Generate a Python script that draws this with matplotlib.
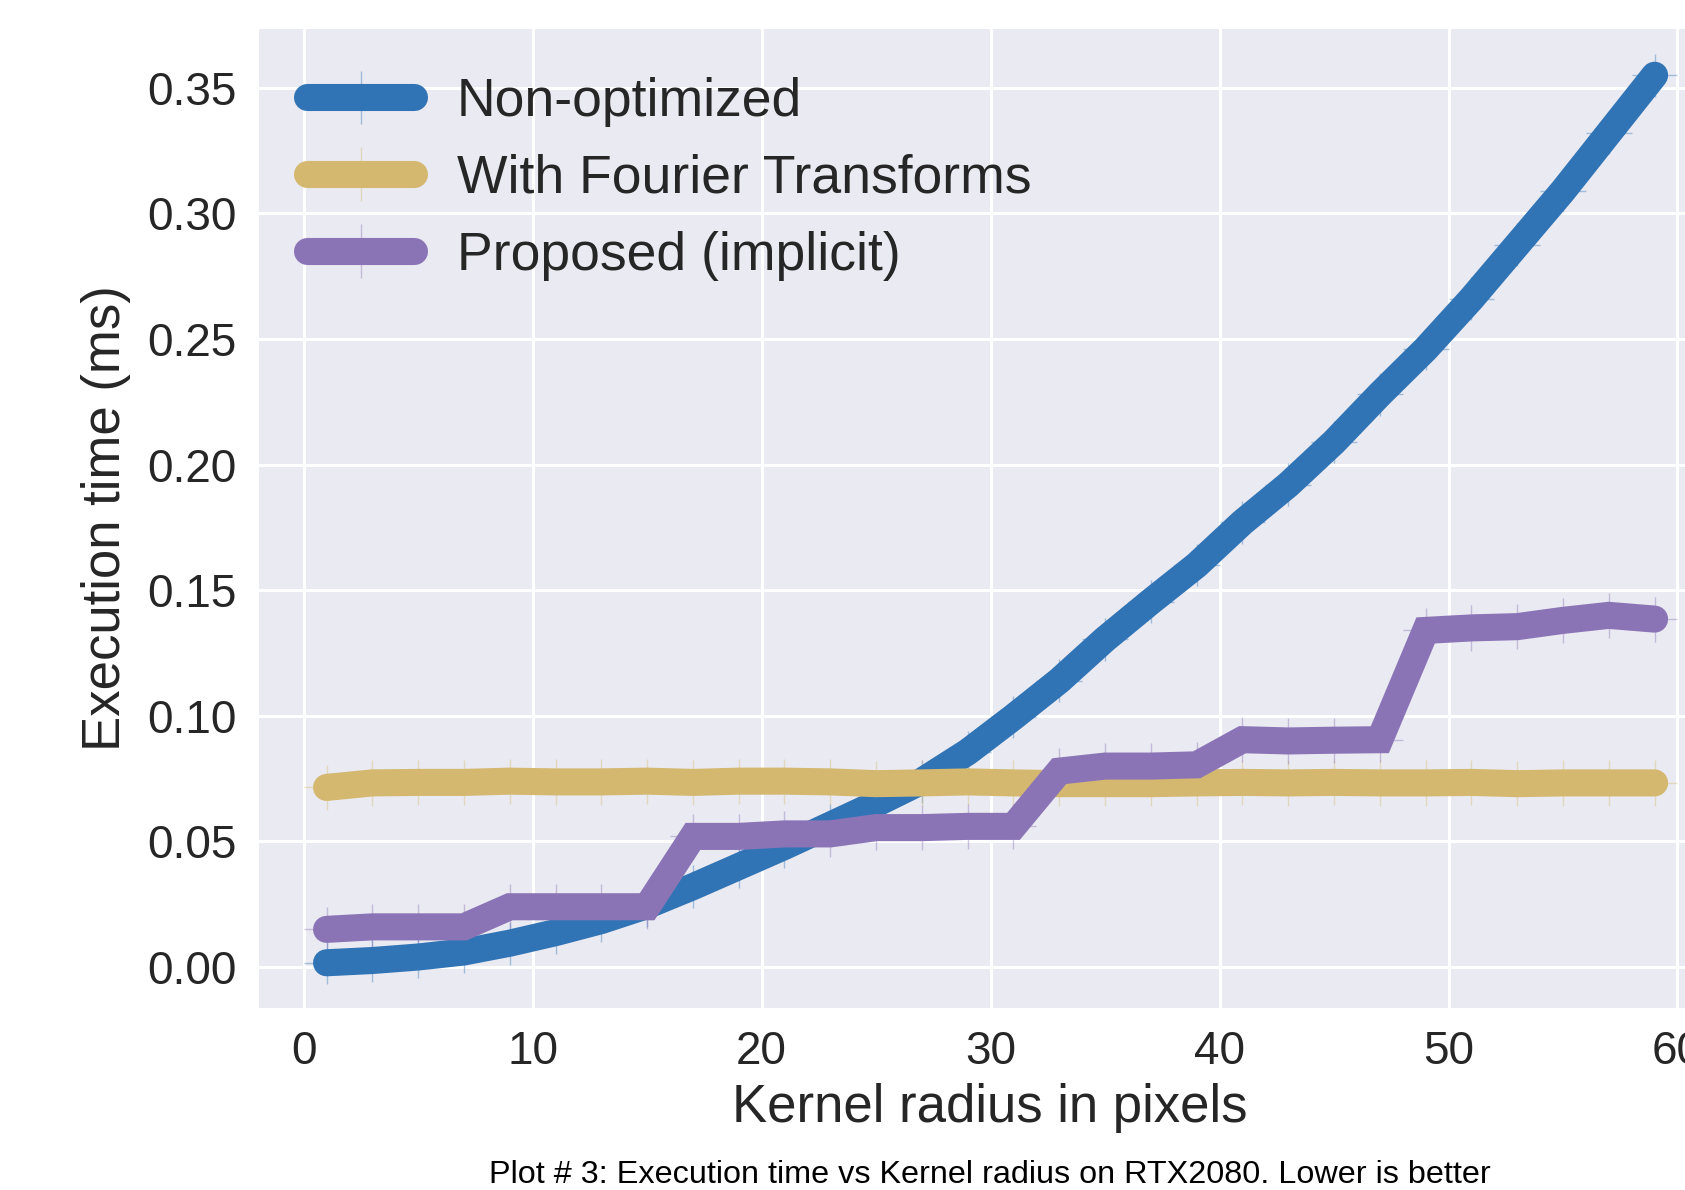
import matplotlib
matplotlib.use("Agg")
import matplotlib.pyplot as plt
import numpy as np

# ---- data ----
radius = [1, 3, 5, 7, 9, 11, 13, 15, 17, 19, 21, 23, 25, 27, 29,
          31, 33, 35, 37, 39, 41, 43, 45, 47, 49, 51, 53, 55, 57, 59]

non_optimized = [0.0017, 0.0026, 0.0040, 0.0060, 0.0095, 0.0137, 0.0185, 0.0245,
                 0.0320, 0.0400, 0.0480, 0.0565, 0.0650, 0.0740, 0.0856,
                 0.0995, 0.1140, 0.1305, 0.1455, 0.1600, 0.1770, 0.1920,
                 0.2090, 0.2280, 0.2460, 0.2660, 0.2875, 0.3090, 0.3320, 0.3550]

fourier = [0.0715, 0.0733, 0.0735, 0.0735, 0.0740, 0.0737, 0.0737, 0.0740,
           0.0735, 0.0740, 0.0740, 0.0737, 0.0730, 0.0733, 0.0737,
           0.0733, 0.0730, 0.0730, 0.0730, 0.0733, 0.0735, 0.0733,
           0.0735, 0.0733, 0.0733, 0.0735, 0.0730, 0.0733, 0.0733, 0.0733]

proposed = [0.0150, 0.0160, 0.0160, 0.0160, 0.0240, 0.0240, 0.0240, 0.0240,
            0.0520, 0.0520, 0.0530, 0.0530, 0.0555, 0.0555, 0.0560,
            0.0560, 0.0780, 0.0800, 0.0800, 0.0805, 0.0905, 0.0900,
            0.0903, 0.0905, 0.1340, 0.1350, 0.1355, 0.1380, 0.1400, 0.1385]

radius_err = [1] * 30
non_optimized_err = [0.0085] * 30
fourier_err = [0.0090] * 30
proposed_err = [0.0090] * 30

labels = ["Non-optimized", "With Fourier Transforms", "Proposed (implicit)"]
xticks = [0, 10, 20, 30, 40, 50, 60]
yticks = [0.00, 0.05, 0.10, 0.15, 0.20, 0.25, 0.30, 0.35]
caption = "Plot # 3: Execution time vs Kernel radius on RTX2080. Lower is better"

colors = ["#3174b5", "#d4b870", "#8a74b6"]

plt.rcParams["font.family"] = ["Liberation Sans", "DejaVu Sans"]
plt.rcParams["text.color"] = "#262626"
plt.rcParams["axes.labelcolor"] = "#262626"
plt.rcParams["xtick.color"] = "#262626"
plt.rcParams["ytick.color"] = "#262626"
plt.rcParams["lines.solid_capstyle"] = "round"
plt.rcParams["lines.solid_joinstyle"] = "miter"

fig = plt.figure(figsize=(16.85, 11.9), dpi=100)
ax = fig.add_axes([259 / 1685, (1190 - 1008) / 1190, (1721 - 259) / 1685, (1008 - 29) / 1190])
ax.set_facecolor("#EAEAF2")
for s in ax.spines.values():
    s.set_visible(False)
ax.grid(True, color="white", linewidth=2.2)
ax.set_axisbelow(True)

series = [non_optimized, fourier, proposed]
errs = [non_optimized_err, fourier_err, proposed_err]
for vals, err, lab, c in zip(series, errs, labels, colors):
    eb = ax.errorbar(radius, vals, xerr=radius_err, yerr=err, color=c, ecolor=c,
                     elinewidth=1.0, linewidth=19.5, label=lab)
    for lc in eb[2]:
        lc.set_alpha(0.4)

ax.set_xlim(-1.95, 61.9)
ax.set_ylim(-0.0163, 0.3734)
ax.set_xticks(xticks)
ax.set_yticks(yticks)
ax.set_yticklabels([f"{v:.2f}" for v in yticks])
ax.tick_params(axis="both", which="both", length=0, labelsize=33, pad=16)
ax.set_xlabel("Kernel radius in pixels", fontsize=38, labelpad=6)
ax.set_ylabel("Execution time (ms)", fontsize=38, labelpad=12)

leg = ax.legend(loc="upper left", fontsize=38.5, frameon=False, labelspacing=0.5)

fig.text(990 / 1685, 1 - 1175 / 1190, caption, fontsize=23.3, ha="center", va="center",
         color="black")

fig.savefig("out.png", dpi=100)
